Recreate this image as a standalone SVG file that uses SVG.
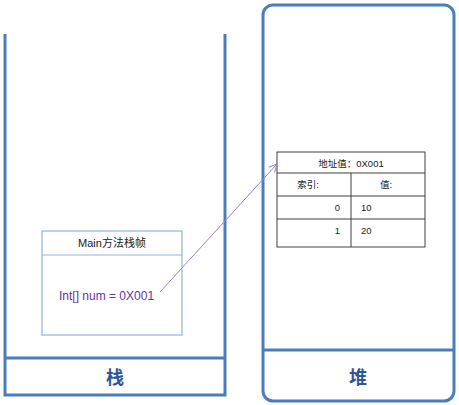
<svg xmlns="http://www.w3.org/2000/svg" width="459" height="405" viewBox="0 0 459 405">
<defs>
<style>
.blue{fill:none;stroke:#4A7EBB;stroke-width:3}
.frame{fill:#fff;stroke:#95B3D7;stroke-width:1.2}
.tbl{fill:none;stroke:#404040;stroke-width:1}
.big{font-family:"Noto Sans CJK SC",sans-serif;font-size:18px;font-weight:bold;fill:#2F5597;text-anchor:middle}
.t{font-family:"Liberation Sans","Noto Sans CJK SC",sans-serif;font-size:9.5px;fill:#222}
</style>
<marker id="arr" markerWidth="10" markerHeight="10" refX="9" refY="5" orient="auto" markerUnits="userSpaceOnUse">
<path d="M1,1 L9,5 L1,9" fill="none" stroke="#9B7EC8" stroke-width="1"/>
</marker>
</defs>
<g id="stack">
<path class="blue" d="M5,34 V395 H225 V34 M5,358 H225"/>
<text class="big" x="115" y="384">栈</text>
</g>
<g id="heap">
<rect class="blue" x="263" y="5" width="191" height="396" rx="10"/>
<line class="blue" x1="263" y1="350" x2="454" y2="350"/>
<text class="big" x="358" y="384">堆</text>
</g>
<g id="main-frame">
<rect class="frame" x="42" y="231" width="140" height="104"/>
<line class="frame" x1="42" y1="255" x2="182" y2="255"/>
<text x="112" y="247" text-anchor="middle" style="font-family:'Liberation Sans','Noto Sans CJK SC',sans-serif;font-size:11px;fill:#222">Main方法栈帧</text>
<text x="59" y="300" style="font-family:'Liberation Sans',sans-serif;font-size:12px;fill:#7030A0">Int[] num = 0X001</text>
</g>
<g id="array-table">
<rect class="tbl" x="277" y="152" width="148" height="95"/>
<path class="tbl" d="M277,173 H425 M277,196 H425 M277,219 H425 M351,173 V247"/>
<text class="t" x="351" y="167" text-anchor="middle">地址值：0X001</text>
<text class="t" x="308" y="188" text-anchor="middle">索引:</text>
<text class="t" x="386" y="188" text-anchor="middle">值:</text>
<text class="t" x="340" y="211" text-anchor="end">0</text>
<text class="t" x="361" y="211">10</text>
<text class="t" x="340" y="234" text-anchor="end">1</text>
<text class="t" x="361" y="234">20</text>
</g>
<g id="connectors">
<line x1="160" y1="292" x2="277" y2="164" stroke="#9B7EC8" stroke-width="1" marker-end="url(#arr)"/>
</g>
</svg>
